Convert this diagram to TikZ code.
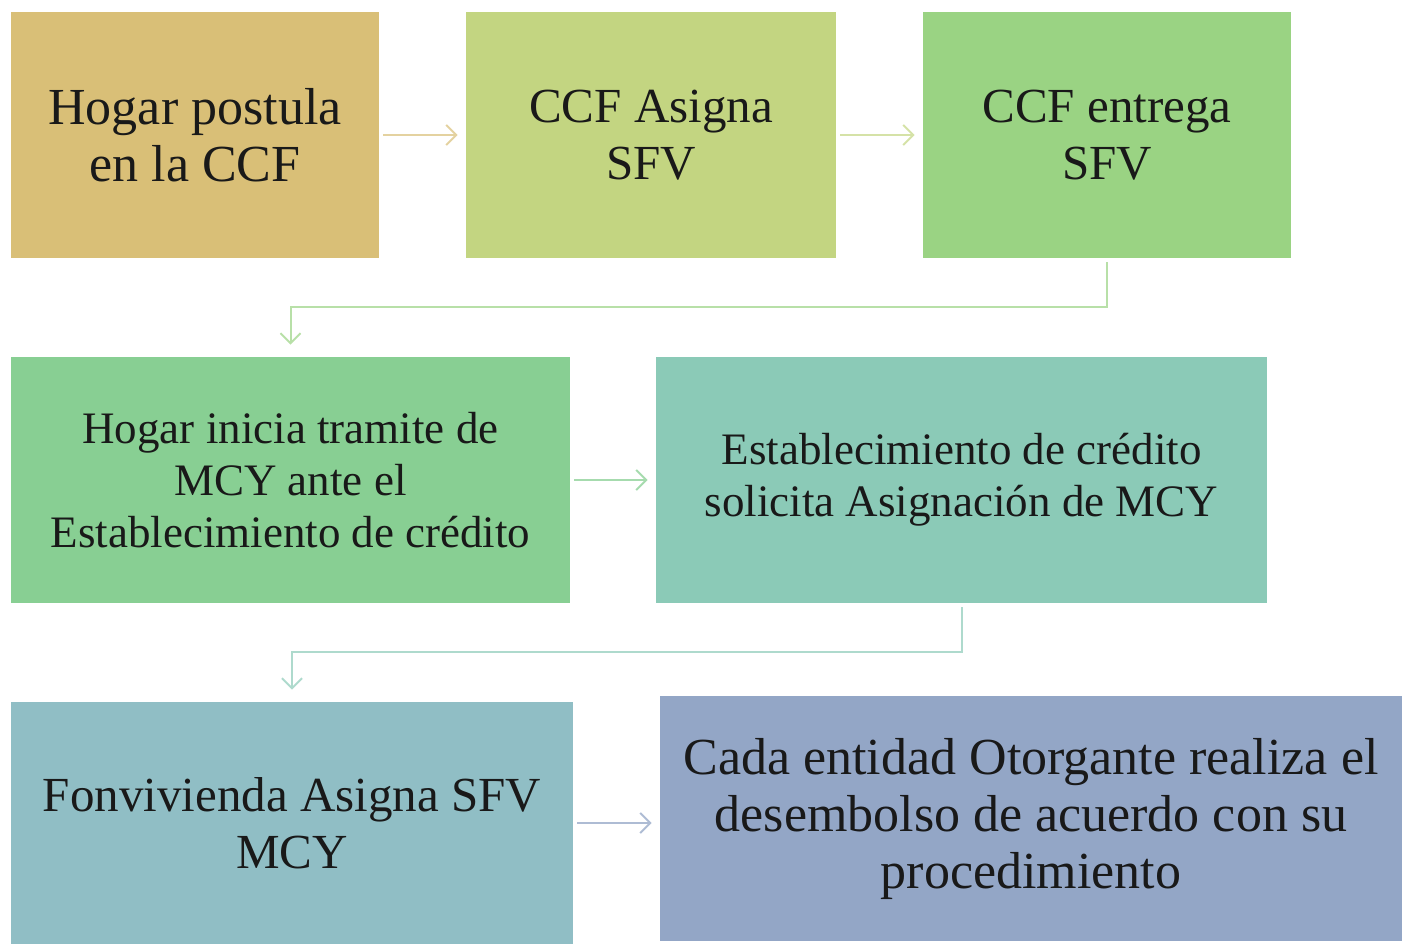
\documentclass[tikz,border=0pt]{standalone}
\usepackage{fontspec}
\setmainfont{Liberation Serif}
\usetikzlibrary{arrows.meta}
\definecolor{tanbox}{HTML}{D9BF77}
\definecolor{limebox}{HTML}{C3D581}
\definecolor{greenbox}{HTML}{9AD383}
\definecolor{mintbox}{HTML}{88CF93}
\definecolor{tealbox}{HTML}{8BCAB7}
\definecolor{cyanbox}{HTML}{90BEC5}
\definecolor{bluebox}{HTML}{93A6C6}
\begin{document}
\begin{tikzpicture}[x=0.5pt,y=-0.5pt,
	box/.style={inner sep=0pt,minimum height=123pt,align=center,text=black!90,font=\fontsize{26}{28.5}\selectfont},
	midbox/.style={box,font=\fontsize{24.5}{28.5}\selectfont},
	smallbox/.style={box,font=\fontsize{22.5}{26}\selectfont},
	link/.style={line width=1pt,-{Straight Barb[length=5pt,width=10pt]},shorten >=4pt,shorten <=2pt}]
			\useasboundingbox (0,0) rectangle (1402,944);
			\node[box,fill=tanbox,minimum width=184pt] (postula) at (195,135) {Hogar postula\\en la CCF};
			\node[midbox,fill=limebox,minimum width=185pt] (asigna) at (651,135) {CCF Asigna\\SFV};
			\node[midbox,fill=greenbox,minimum width=184pt] (entrega) at (1107,135) {CCF entrega\\SFV};
			\node[smallbox,fill=mintbox,minimum width=279.5pt] (inicia) at (290.5,480) {Hogar inicia tramite de\\MCY ante el\\Establecimiento de crédito};
			\node[smallbox,fill=tealbox,minimum width=305.5pt] (solicita) at (961.5,480) {Establecimiento de crédito\\solicita Asignación de MCY};
			\node[midbox,fill=cyanbox,minimum width=281pt,minimum height=121pt] (fonvivienda) at (292,823) {Fonvivienda Asigna SFV\\MCY};
			\node[box,fill=bluebox,minimum width=371pt,minimum height=122.5pt] (desembolso) at (1031,818.5) {Cada entidad Otorgante realiza el\\desembolso de acuerdo con su\\procedimiento};
			\draw[link,draw=tanbox!70!white] (postula) -- (asigna);
			\draw[link,draw=limebox!70!white] (asigna) -- (entrega);
			\draw[link,draw=greenbox!70!white,shorten >=6pt] (entrega.south) -- ++(0,49) -| (inicia.north);
			\draw[link,draw=mintbox!75!white] (inicia) -- (solicita);
			\draw[link,draw=tealbox!70!white,shorten >=6pt] (solicita.south) -- ++(0,49) -| (fonvivienda.north);
			\draw[link,draw=bluebox!75!white] (fonvivienda.east) -- (desembolso.west |- fonvivienda.east);
		\end{tikzpicture}
\end{document}
